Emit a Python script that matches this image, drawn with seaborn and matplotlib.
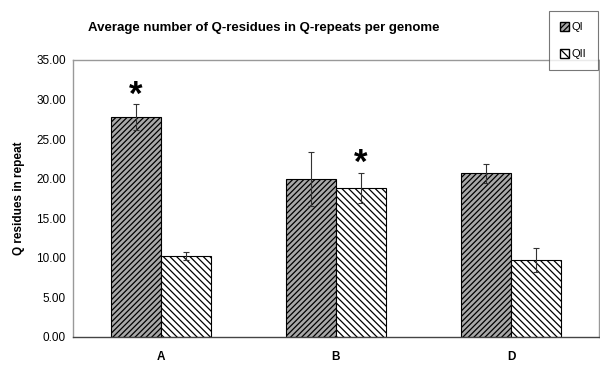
import pandas as pd
import matplotlib.pyplot as plt
import seaborn as sns
from matplotlib.patches import Patch

# data
genomes = ["A", "B", "D"]
qi_mean = [27.8, 20.0, 20.7]
qi_err = [1.6, 3.4, 1.2]
qii_mean = [10.2, 18.8, 9.7]
qii_err = [0.5, 1.9, 1.5]
significant = [("A", "QI"), ("B", "QII")]

sns.set_style('white')
plt.rcParams['font.family'] = ['Liberation Sans', 'DejaVu Sans']
plt.rcParams['hatch.linewidth'] = 0.9
plt.rcParams['text.color'] = 'black'
plt.rcParams['axes.labelcolor'] = 'black'

df = pd.DataFrame({
    "genome": genomes * 2,
    "type": ["QI"] * 3 + ["QII"] * 3,
    "value": qi_mean + qii_mean,
    "err": qi_err + qii_err,
})

fig = plt.figure(figsize=(6, 3.74), dpi=100)
ax = fig.add_axes([0.1217, 0.099, 0.8763, 0.7406])

qi_face = "#a8a8a8"
sns.barplot(data=df, x="genome", y="value", hue="type",
            palette=[qi_face, "white"], width=0.57, errorbar=None,
            edgecolor="black", linewidth=0.8, legend=False, ax=ax)

hatches = {"QI": "//////", "QII": "\\\\\\\\\\"}
for cont, t in zip(ax.containers, ["QI", "QII"]):
    sub = df[df["type"] == t]
    xs = [p.get_x() + p.get_width() / 2 for p in cont.patches]
    for p in cont.patches:
        p.set_hatch(hatches[t])
    ax.errorbar(xs, sub["value"], yerr=sub["err"], fmt="none",
                ecolor="#333333", elinewidth=0.8, capsize=2.5, capthick=0.8)
    for x, g, v, e in zip(xs, sub["genome"], sub["value"], sub["err"]):
        if (g, t) in significant:
            ax.text(x, v + e - 0.9, "*", ha="center", va="bottom",
                    fontsize=25, fontweight="bold", color="black")

ax.set_ylim(0, 35)
ax.set_xlim(-0.5, 2.5)
ax.set_yticks(range(0, 36, 5))
ax.set_yticklabels([f"{v:.2f}" for v in range(0, 36, 5)], fontsize=8.5)
ax.set_xticks(range(3))
ax.set_xticklabels(genomes, fontsize=8.5, fontweight="bold")
ax.set_xticks([0.5, 1.5, 2.5], minor=True)
ax.tick_params(axis="x", which="major", length=0, pad=10, labelcolor="black")
ax.tick_params(axis="x", which="minor", length=3, direction="in", color="#555555")
ax.tick_params(axis="y", length=3, color="#888888", pad=2, labelcolor="black")
ax.set_xlabel("")
ax.set_ylabel("Q residues in repeat", fontsize=8.5, fontweight="bold", labelpad=8)

for side in ["top", "right", "left"]:
    ax.spines[side].set_color("#999999")
ax.spines["bottom"].set_color("#444444")
for s in ax.spines.values():
    s.set_linewidth(1.0)

fig.text(0.44, 0.925, "Average number of Q-residues in Q-repeats per genome",
         ha="center", va="center", fontsize=9.5, fontweight="bold")

handles = [Patch(facecolor=qi_face, edgecolor="black", hatch=hatches["QI"], label="QI"),
           Patch(facecolor="white", edgecolor="black", hatch="\\\\\\", label="QII")]
leg = fig.legend(handles=handles, loc="upper left", bbox_to_anchor=(0.905, 0.985),
                 fontsize=8, frameon=True, fancybox=False, handlelength=0.8,
                 handleheight=0.8, labelspacing=1.5, borderpad=1.0, handletextpad=0.3)
leg.get_frame().set_edgecolor("#555555")
leg.get_frame().set_linewidth(0.8)

fig.savefig("out.png", dpi=100)
